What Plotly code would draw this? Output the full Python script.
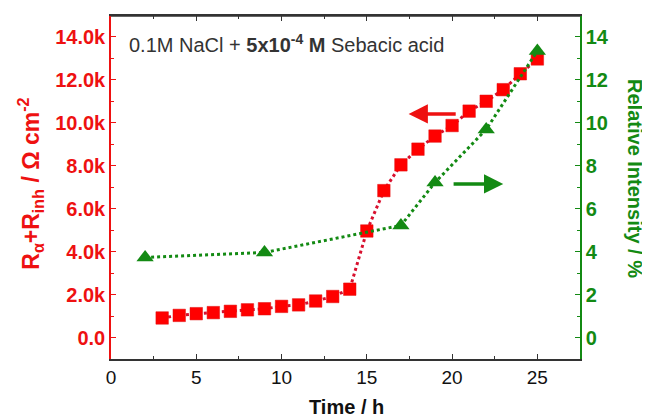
import plotly.graph_objects as go

# Data
time_r = [3, 4, 5, 6, 7, 8, 9, 10, 11, 12, 13, 14, 15, 16, 17, 18, 19, 20, 21, 22, 23, 24, 25]
resistance = [910, 1030, 1110, 1160, 1220, 1290, 1340, 1450, 1520, 1700, 1910, 2250,
              4960, 6840, 8040, 8770, 9380, 9870, 10540, 11000, 11540, 12280, 12970]
time_g = [2, 9, 17, 19, 22, 25]
intensity = [3.73, 3.96, 5.22, 7.22, 9.69, 13.34]

left_tickvals = [0, 2000, 4000, 6000, 8000, 10000, 12000, 14000]
left_ticktext = ["0.0", "2.0k", "4.0k", "6.0k", "8.0k", "10.0k", "12.0k", "14.0k"]
right_tickvals = [0, 2, 4, 6, 8, 10, 12, 14]
x_tickvals = [0, 5, 10, 15, 20, 25]

RED = "#ee1111"
RED_LINE = "#d8102e"
GREEN = "#138a13"
FONT = "Liberation Sans, Arial, sans-serif"

fig = go.Figure()
fig.add_trace(go.Scatter(x=time_r, y=resistance, mode="lines",
                         line=dict(color=RED_LINE, width=3, dash="dot"),
                         showlegend=False, yaxis="y"))
fig.add_trace(go.Scatter(x=time_g, y=intensity, mode="lines",
                         line=dict(color=GREEN, width=3, dash="dot"),
                         showlegend=False, yaxis="y2"))
fig.add_trace(go.Scatter(x=time_r, y=resistance, mode="markers",
                         marker=dict(symbol="square", size=12.5, color="#ff0000",
                                     line=dict(color="#e01010", width=0.5)),
                         showlegend=False, yaxis="y"))
fig.add_trace(go.Scatter(x=time_g, y=intensity, mode="markers",
                         marker=dict(symbol="triangle-up", size=15, color=GREEN,
                                     line=dict(width=0)),
                         showlegend=False, yaxis="y2"))

fig.update_layout(
    width=642, height=411,
    margin=dict(l=103, r=70, t=6, b=60),
    paper_bgcolor="white", plot_bgcolor="white",
    font=dict(family=FONT),
    xaxis=dict(range=[0, 27.5], tickvals=x_tickvals, ticks="inside", ticklen=5,
               tickcolor="#333", showline=True, linecolor="#333", linewidth=1.5,
               mirror="ticks", showgrid=False, zeroline=False,
               tickfont=dict(size=19, color="#111"),
               minor=dict(dtick=2.5, ticks="inside", ticklen=3, tickcolor="#333")),
    yaxis=dict(range=[-1000, 14970], tickvals=left_tickvals, ticktext=left_ticktext,
               ticks="inside", ticklen=5, tickcolor=RED, showline=True, linecolor=RED,
               linewidth=1.5, showgrid=False, zeroline=False,
               tickfont=dict(size=20, color=RED, weight="bold"),
               minor=dict(dtick=1000, tick0=0, ticks="inside", ticklen=3, tickcolor=RED)),
    yaxis2=dict(range=[-1, 14.97], overlaying="y", side="right", tickvals=right_tickvals,
                ticks="inside", ticklen=5, tickcolor=GREEN, showline=True, linecolor=GREEN,
                linewidth=1.5, showgrid=False, zeroline=False,
                tickfont=dict(size=20, color=GREEN, weight="bold"),
                minor=dict(dtick=1, tick0=0, ticks="inside", ticklen=3, tickcolor=GREEN)),
)

# top border
fig.add_shape(type="line", xref="paper", yref="paper", x0=0, x1=1, y0=1, y1=1,
              line=dict(color="#333", width=1.5))

ann = []
ann.append(dict(text="0.1M NaCl + <b>5x10<sup>-4</sup> M</b> Sebacic acid",
                xref="paper", yref="paper", x=0.0335, y=0.92, xanchor="left", yanchor="middle",
                showarrow=False, font=dict(size=20, color="#333", family=FONT)))
ann.append(dict(text="<b>Time / h</b>", xref="paper", yref="paper", x=0.5025, y=-0.14,
                xanchor="center", yanchor="middle", showarrow=False,
                font=dict(size=20, color="#111", family=FONT)))
ann.append(dict(text="<b>R<sub>α</sub>+R<sub>inh</sub> / Ω cm<sup>-2</sup></b>",
                xref="paper", yref="paper", x=-0.1727, y=0.511, xanchor="center", yanchor="middle",
                textangle=-90, showarrow=False, font=dict(size=23, color=RED, family=FONT)))
ann.append(dict(text="<b>Relative Intensity / %</b>", xref="paper", yref="paper",
                x=1.117, y=0.525, xanchor="center", yanchor="middle", textangle=90,
                showarrow=False, font=dict(size=20, color=GREEN, family=FONT)))
# direction arrows
ann.append(dict(text="", x=17.45, y=10410, xref="x", yref="y", ax=20.3, ay=10410,
                axref="x", ayref="y", showarrow=True, arrowhead=2, arrowsize=1.1,
                arrowwidth=3.5, arrowcolor=RED))
ann.append(dict(text="", x=23.0, y=7.15, xref="x", yref="y2", ax=20.0, ay=7.15,
                axref="x", ayref="y2", showarrow=True, arrowhead=2, arrowsize=1.1,
                arrowwidth=3.5, arrowcolor=GREEN))
fig.update_layout(annotations=ann)

fig.write_html("out.html")
